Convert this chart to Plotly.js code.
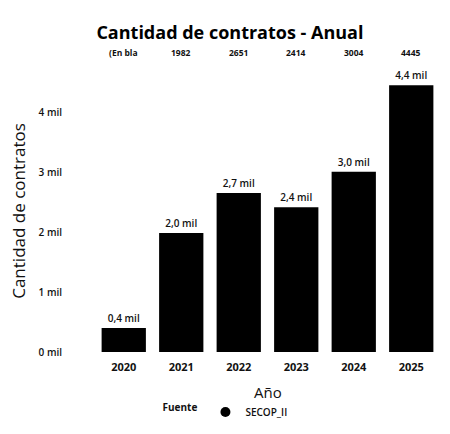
<!DOCTYPE html>
<html>
<head>
<meta charset="utf-8">
<script src="https://cdn.plot.ly/plotly-3.0.1.min.js"></script>
<style>html,body{margin:0;padding:0;background:#fff;}#chart{width:450px;height:434px;}</style>
</head>
<body>
<div id="chart"></div>
<script>
var years = ['2020', '2021', '2022', '2023', '2024', '2025'];
var contratos = [400, 1982, 2651, 2414, 3004, 4445];
var headerLabels = ['(En bla', '1982', '2651', '2414', '3004', '4445'];
var yTickVals = [0, 1000, 2000, 3000, 4000];
var yTickText = ['0 mil', '1 mil', '2 mil', '3 mil', '4 mil'];

var barText = contratos.map(function (v) {
  return (v / 1000).toFixed(1).replace('.', ',') + ' mil';
});

var font = 'Open Sans, Noto Sans, sans-serif';

var trace = {
  type: 'bar',
  name: 'SECOP_II',
  x: years,
  y: contratos,
  text: barText,
  textposition: 'outside',
  cliponaxis: false,
  textfont: {family: font, size: 10, color: '#111', weight: 600},
  marker: {color: '#000'},
  showlegend: false
};

var legendMarker = {
  type: 'scatter', mode: 'markers', name: 'SECOP_II',
  x: [years[0]], y: [-1000],
  marker: {color: '#000', size: 10, symbol: 'circle'}, showlegend: true
};

var plotTop = 70, plotBottom = 352;
var plotH = plotBottom - plotTop;

var annotations = years.map(function (yr, i) {
  return {
    x: i, xref: 'x', y: (plotBottom - 53) / plotH, yref: 'paper', yanchor: 'middle',
    text: headerLabels[i], showarrow: false,
    font: {family: font, size: 8.5, color: '#111', weight: 'bold'}
  };
});
annotations.push({
  x: 0.5, xref: 'paper', y: (plotBottom - 392) / plotH, yref: 'paper', yanchor: 'middle',
  text: 'Año', showarrow: false,
  font: {family: font, size: 15, color: '#111'}
});

var layout = {
  width: 450, height: 434,
  margin: {l: 95, r: 10, t: plotTop, b: 434 - plotBottom, autoexpand: false},
  paper_bgcolor: '#fff', plot_bgcolor: '#fff',
  font: {family: font, color: '#111'},
  title: {
    text: '<b>Cantidad de contratos - Anual</b>',
    x: 0.511, xanchor: 'center', y: 1 - 33 / 434, yanchor: 'middle',
    font: {family: font, size: 18, color: '#000'}
  },
  bargap: 0.23,
  showlegend: true,
  legend: {
    orientation: 'h', x: 0.19, xanchor: 'left',
    yref: 'container', y: 1 - 412 / 434, yanchor: 'middle',
    title: {text: '<b>Fuente</b>', font: {family: font, size: 10, color: '#111'}},
    font: {family: font, size: 10, color: '#111', weight: 600}
  },
  xaxis: {
    type: 'category',
    range: [-0.5, 5.5], autorange: false, automargin: false,
    showgrid: false, zeroline: false, showline: false,
    ticks: 'outside', ticklen: 5, tickcolor: 'rgba(0,0,0,0)',
    tickfont: {family: font, size: 11, color: '#111', weight: 'bold'}
  },
  yaxis: {
    range: [0, 4700], autorange: false, automargin: false,
    tickvals: yTickVals, ticktext: yTickText,
    showgrid: false, zeroline: false, showline: false,
    ticklabelstandoff: 32,
    tickfont: {family: font, size: 10, color: '#111', weight: 600},
    title: {text: 'Cantidad de contratos', font: {family: font, size: 17, color: '#111'}, standoff: 8}
  },
  annotations: annotations
};

Plotly.newPlot('chart', [trace, legendMarker], layout, {displayModeBar: false, staticPlot: true});
</script>
</body>
</html>
